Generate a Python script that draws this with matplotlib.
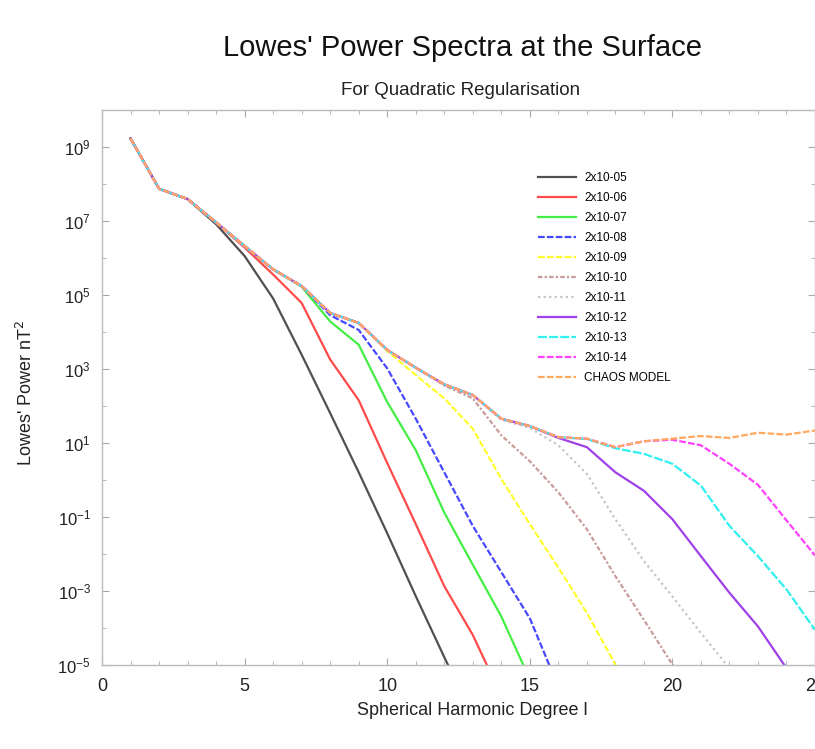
import matplotlib
matplotlib.use('Agg')
import matplotlib.pyplot as plt
from matplotlib.ticker import FixedLocator, MultipleLocator, NullFormatter

# Lowes' power (log10 nT^2) per degree l = 1, 2, ...
chaos = [9.23, 7.87, 7.59, 6.96, 6.32, 5.69, 5.24, 4.51, 4.24, 3.51, 3.03, 2.58,
         2.29, 1.65, 1.45, 1.15, 1.11, 0.88, 1.04, 1.11, 1.18, 1.13, 1.27, 1.22, 1.33]
reg_05 = [9.23, 7.87, 7.59, 6.91, 6.05, 4.90, 3.38, 1.80, 0.20, -1.45, -3.15, -4.80,
          -6.40]
reg_06 = [9.23, 7.87, 7.59, 6.96, 6.28, 5.55, 4.78, 3.25, 2.15, 0.45, -1.20, -2.88,
          -4.20, -5.85]
reg_07 = [9.23, 7.87, 7.59, 6.96, 6.32, 5.69, 5.22, 4.28, 3.65, 2.10, 0.80, -0.89,
          -2.30, -3.70, -5.40]
reg_08 = [9.23, 7.87, 7.59, 6.96, 6.32, 5.69, 5.24, 4.45, 4.05, 3.01, 1.65, 0.20,
          -1.25, -2.50, -3.75, -5.60]
reg_09 = [9.23, 7.87, 7.59, 6.96, 6.32, 5.69, 5.24, 4.51, 4.24, 3.48, 2.83, 2.20,
          1.38, 0.02, -1.20, -2.38, -3.60, -5.00, -6.30]
reg_10 = [9.23, 7.87, 7.59, 6.96, 6.32, 5.69, 5.24, 4.51, 4.24, 3.51, 3.03, 2.55,
          2.20, 1.20, 0.50, -0.34, -1.34, -2.61, -3.79, -5.00, -6.20]
reg_11 = [9.23, 7.87, 7.59, 6.96, 6.32, 5.69, 5.24, 4.51, 4.24, 3.51, 3.03, 2.58,
          2.29, 1.62, 1.40, 0.93, 0.16, -1.07, -2.20, -3.16, -4.15, -5.10]
reg_12 = [9.23, 7.87, 7.59, 6.96, 6.32, 5.69, 5.24, 4.51, 4.24, 3.51, 3.03, 2.58,
          2.29, 1.65, 1.45, 1.13, 0.88, 0.20, -0.30, -1.07, -2.07, -3.06, -3.97,
          -5.10]
reg_13 = [9.23, 7.87, 7.59, 6.96, 6.32, 5.69, 5.24, 4.51, 4.24, 3.51, 3.03, 2.58,
          2.29, 1.65, 1.45, 1.15, 1.10, 0.85, 0.70, 0.43, -0.16, -1.25, -2.07,
          -2.97, -4.06]
reg_14 = [9.23, 7.87, 7.59, 6.96, 6.32, 5.69, 5.24, 4.51, 4.24, 3.51, 3.03, 2.58,
          2.29, 1.65, 1.45, 1.15, 1.11, 0.88, 1.04, 1.08, 0.93, 0.43, -0.14, -1.10,
          -2.05]

labels = ['2x10-05', '2x10-06', '2x10-07', '2x10-08', '2x10-09', '2x10-10',
          '2x10-11', '2x10-12', '2x10-13', '2x10-14', 'CHAOS MODEL']
series = [reg_05, reg_06, reg_07, reg_08, reg_09, reg_10, reg_11, reg_12,
          reg_13, reg_14, chaos]

colors = ['#505050', '#ff4a4a', '#44ee44', '#4848ff', '#ffff30', '#c89a9a',
          '#c4c4c4', '#a040e8', '#30f0f0', '#ff40ff', '#ffa860']
styles = ['-', '-', '-', (0, (3, 1)), (0, (3, 1)), (0, (2, 1, 1, 1)),
          (0, (1, 1.5)), '-', (0, (4, 1)), (0, (3, 1)), (0, (3, 1))]

plt.rcParams['font.family'] = ['Liberation Sans', 'DejaVu Sans']

fig = plt.figure(figsize=(8.15, 7.49), dpi=100)
ax = fig.add_axes([0.1252, 0.1128, 0.8748, 0.7403])

for vals, lab, col, ls in zip(series, labels, colors, styles):
    degrees = range(1, len(vals) + 1)
    power = [10 ** v for v in vals]
    ax.plot(degrees, power, color=col, linestyle=ls, linewidth=1.6, label=lab)

ax.set_yscale('log')
ax.set_xlim(0, 25)
ax.set_ylim(1e-5, 1e10)

ax.xaxis.set_major_locator(MultipleLocator(5))
ax.xaxis.set_minor_locator(MultipleLocator(1))
ax.yaxis.set_major_locator(FixedLocator([10.0 ** e for e in range(-5, 10, 2)]))
ax.yaxis.set_minor_locator(FixedLocator([10.0 ** e for e in range(-4, 11, 2)]))
ax.yaxis.set_minor_formatter(NullFormatter())

ax.tick_params(which='both', direction='in', top=True, right=True,
               color='#aaaaaa', labelsize=13, labelcolor='#222222')
ax.tick_params(which='major', length=5)
ax.tick_params(which='minor', length=3)
ax.tick_params(axis='x', pad=10)
ax.tick_params(axis='y', labelsize=12, pad=8)
for side in ax.spines.values():
    side.set_color('#bbbbbb')
    side.set_linewidth(1.0)

ax.set_xlabel('Spherical Harmonic Degree l', fontsize=13, color='#222222')
ax.xaxis.set_label_coords(0.52, -0.068)
ax.set_ylabel("Lowes' Power nT$^2$", fontsize=13, color='#222222')
ax.yaxis.set_label_coords(-0.092, 0.49)

fig.text(0.568, 0.936, "Lowes' Power Spectra at the Surface", ha='center',
         va='center', fontsize=21, color='#111111')
fig.text(0.565, 0.879, 'For Quadratic Regularisation', ha='center',
         va='center', fontsize=13.5, color='#222222')

fig.legend(loc='upper left', bbox_to_anchor=(0.647, 0.785), frameon=False,
           fontsize=8.5, handlelength=3.2, labelspacing=0.68, handletextpad=0.7)

fig.savefig('out.png', dpi=100)
